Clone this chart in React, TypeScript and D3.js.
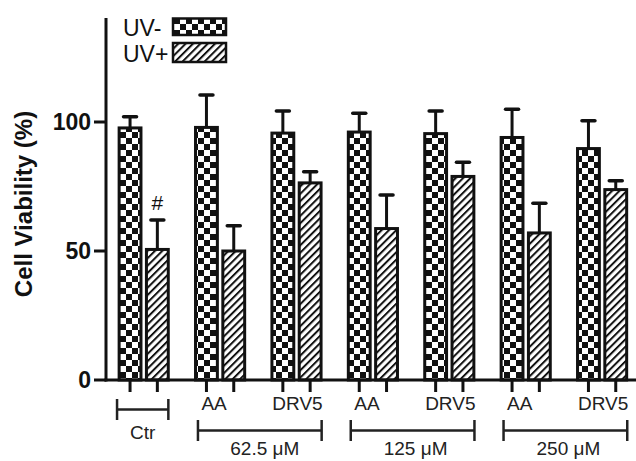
import * as d3 from 'd3'

const groups = ['Ctr', 'AA 62.5', 'DRV5 62.5', 'AA 125', 'DRV5 125', 'AA 250', 'DRV5 250']
const groupLabels = ['', 'AA', 'DRV5', 'AA', 'DRV5', 'AA', 'DRV5']
const series = ['UV-', 'UV+']
const uvMinus = [97.7, 97.9, 95.7, 96.1, 95.5, 94, 89.7]
const uvMinusErr = [4.3, 12.6, 8.6, 7.3, 8.8, 10.9, 10.8]
const uvPlus = [50.6, 50, 76.4, 58.7, 78.9, 57, 73.8]
const uvPlusErr = [11.4, 9.8, 4.3, 13, 5.5, 11.5, 3.4]
const concLabels = ['62.5 μM', '125 μM', '250 μM']
const concGroups = [[1, 2], [3, 4], [5, 6]]
const yTicks = [0, 50, 100]

const W = 636
const H = 461

export default function App() {
  const x0 = d3.scaleBand().domain(groups).range([105.5, 640.3])
  const bw = x0.bandwidth()
  const x1 = d3.scaleBand().domain(series).range([bw / 2 - 27.3, bw / 2 + 27.3]).paddingInner(0.2).paddingOuter(0.1)
  const y = d3.scaleLinear().domain([0, 140]).range([380, 18.8])
  const axisX = 106

  const barCenter = (g: number, s: number) => (x0(groups[g]) as number) + (x1(series[s]) as number) + x1.bandwidth() / 2

  const bars: { g: number; s: number; v: number; e: number }[] = []
  groups.forEach((_, i) => {
    bars.push({ g: i, s: 0, v: uvMinus[i], e: uvMinusErr[i] })
    bars.push({ g: i, s: 1, v: uvPlus[i], e: uvPlusErr[i] })
  })

  const cw = 6
  const hs = 5.2
  const labelFont = '"Liberation Sans", Arial, sans-serif'

  return (
    <svg width={W} height={H} style={{ position: 'absolute', left: 0, top: 0, background: '#fff' }}>
      <defs>
        <pattern id="checker" patternUnits="userSpaceOnUse" width={cw * 2} height={cw * 2}>
          <rect width={cw * 2} height={cw * 2} fill="#fff" />
          <rect width={cw} height={cw} fill="#111" />
          <rect x={cw} y={cw} width={cw} height={cw} fill="#111" />
        </pattern>
        <pattern id="hatch" patternUnits="userSpaceOnUse" width={hs} height={hs} patternTransform="rotate(45)">
          <rect width={hs} height={hs} fill="#fff" />
          <rect width={2} height={hs} fill="#111" />
        </pattern>
      </defs>

      {/* bars and error bars */}
      {bars.map((b, i) => {
        const cx = barCenter(b.g, b.s)
        const left = cx - x1.bandwidth() / 2
        const top = y(b.v)
        const cap = y(b.v + b.e)
        return (
          <g key={i}>
            <line x1={cx} x2={cx} y1={top} y2={cap} stroke="#111" strokeWidth={3} />
            <line x1={cx - 6.5} x2={cx + 6.5} y1={cap} y2={cap} stroke="#111" strokeWidth={3.5} strokeLinecap="round" />
            <rect x={left} y={top} width={x1.bandwidth()} height={y(0) - top}
              fill={b.s === 0 ? 'url(#checker)' : 'url(#hatch)'} stroke="#111" strokeWidth={3} />
          </g>
        )
      })}

      {/* # marker */}
      <text x={barCenter(0, 1)} y={210} textAnchor="middle" fontFamily={labelFont} fontSize={21} fill="#111">#</text>

      {/* y axis */}
      <line x1={axisX} x2={axisX} y1={18} y2={381.5} stroke="#111" strokeWidth={3} />
      {yTicks.map(t => (
        <g key={t} transform={`translate(0,${y(t)})`}>
          <line x1={axisX - 12} x2={axisX} stroke="#111" strokeWidth={3} />
          <text x={91} y={8} textAnchor="end" fontFamily={labelFont} fontWeight="bold" fontSize={23} fill="#111">{t}</text>
        </g>
      ))}
      <text transform="translate(32,204) rotate(-90)" textAnchor="middle" fontFamily={labelFont}
        fontWeight="bold" fontSize={24} fill="#111">Cell Viability (%)</text>

      {/* x axis */}
      <line x1={axisX - 1.5} x2={W} y1={y(0)} y2={y(0)} stroke="#111" strokeWidth={3} />
      {bars.map((b, i) => {
        const cx = barCenter(b.g, b.s)
        return <line key={'t' + i} x1={cx} x2={cx} y1={y(0)} y2={y(0) + 12} stroke="#111" strokeWidth={3} />
      })}

      {/* group labels */}
      {groupLabels.map((l, i) => l && (
        <text key={'gl' + i} x={(x0(groups[i]) as number) + bw / 2 + (l === 'AA' ? -6 : 1)} y={410}
          textAnchor="middle" fontFamily={labelFont} fontSize={19} fill="#222">{l}</text>
      ))}

      {/* Ctr bracket */}
      {(() => {
        const a = barCenter(0, 0) - 13
        const b = barCenter(0, 1) + 11
        return (
          <g>
            <line x1={a} x2={b} y1={409.5} y2={409.5} stroke="#222" strokeWidth={2.5} />
            <line x1={a} x2={a} y1={399} y2={420} stroke="#222" strokeWidth={2.5} />
            <line x1={b} x2={b} y1={399} y2={420} stroke="#222" strokeWidth={2.5} />
            <text x={(a + b) / 2} y={439} textAnchor="middle" fontFamily={labelFont} fontSize={19} fill="#222">Ctr</text>
          </g>
        )
      })()}

      {/* concentration brackets */}
      {concGroups.map((cg, i) => {
        const a = barCenter(cg[0], 0) - 8.5
        const b = barCenter(cg[1], 1) + 11.5
        return (
          <g key={'c' + i}>
            <line x1={a} x2={b} y1={430.5} y2={430.5} stroke="#222" strokeWidth={2.5} />
            <line x1={a} x2={a} y1={420} y2={441} stroke="#222" strokeWidth={2.5} />
            <line x1={b} x2={b} y1={420} y2={441} stroke="#222" strokeWidth={2.5} />
            <text x={(a + b) / 2 + (i === 0 ? 5 : 3)} y={455} textAnchor="middle" fontFamily={labelFont} fontSize={19} fill="#222">{concLabels[i]}</text>
          </g>
        )
      })}

      {/* legend */}
      <text x={123} y={36} fontFamily={labelFont} fontSize={23} fill="#111">UV-</text>
      <rect x={173} y={18.5} width={53} height={16.5} fill="url(#checker)" stroke="#111" strokeWidth={2.5} />
      <text x={123} y={62} fontFamily={labelFont} fontSize={23} fill="#111">UV+</text>
      <rect x={173} y={43} width={53} height={19} fill="url(#hatch)" stroke="#111" strokeWidth={2.5} />
    </svg>
  )
}
